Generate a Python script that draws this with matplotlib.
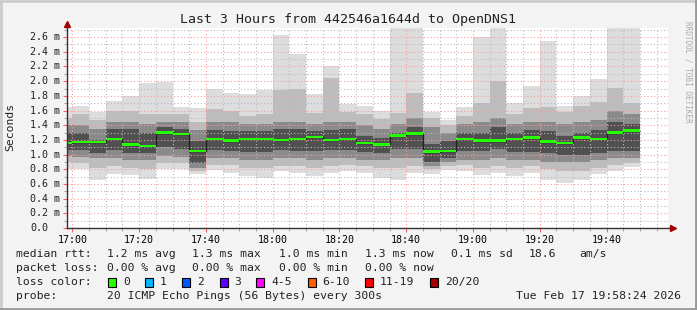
import matplotlib
matplotlib.use("Agg")
import matplotlib.pyplot as plt
import matplotlib.dates as mdates
import matplotlib.transforms as mtransforms
from matplotlib.patches import Rectangle
import numpy as np
import pandas as pd

plt.rcParams['font.family'] = ['DejaVu Sans Mono']

# 5 minute smokeping slots, the first one is cut off by the left edge
slot_start = pd.date_range("2026-02-17 16:55", periods=35, freq="5min")
t_start = pd.Timestamp("2026-02-17 16:58:24")
t_end = pd.Timestamp("2026-02-17 19:58:24")

# values in ms
median = [1.16, 1.17, 1.17, 1.21, 1.135, 1.12, 1.30, 1.28, 1.05, 1.21,
          1.19, 1.21, 1.21, 1.20, 1.21, 1.24, 1.20, 1.21, 1.16, 1.14,
          1.26, 1.285, 1.04, 1.05, 1.215, 1.19, 1.19, 1.215, 1.23, 1.175,
          1.16, 1.23, 1.215, 1.30, 1.325]
ping_max = [1.65, 1.66, 1.58, 1.73, 1.80, 1.98, 1.99, 1.65, 1.63, 1.90,
            1.84, 1.82, 1.88, 2.63, 2.37, 1.83, 2.21, 1.69, 1.66, 1.59,
            2.85, 2.85, 1.58, 1.47, 1.65, 2.60, 2.85, 1.70, 1.93, 2.55,
            1.66, 1.80, 2.03, 2.85, 2.85]
ping_min = [0.80, 0.80, 0.65, 0.735, 0.72, 0.667, 0.80, 0.80, 0.74, 0.79,
            0.755, 0.71, 0.685, 0.77, 0.75, 0.71, 0.745, 0.78, 0.75, 0.685,
            0.653, 0.75, 0.73, 0.79, 0.78, 0.725, 0.75, 0.71, 0.745, 0.653,
            0.617, 0.653, 0.735, 0.78, 0.826]
hi2 = [1.50, 1.55, 1.47, 1.60, 1.60, 1.55, 1.55, 1.55, 1.45, 1.62,
       1.60, 1.52, 1.55, 1.88, 1.90, 1.56, 2.04, 1.58, 1.55, 1.48,
       1.56, 1.84, 1.50, 1.40, 1.52, 1.70, 2.00, 1.55, 1.63, 1.65,
       1.58, 1.66, 1.72, 1.91, 1.70]
lo2 = [0.90, 0.88, 0.82, 0.85, 0.82, 0.80, 0.88, 0.88, 0.77, 0.86,
       0.86, 0.82, 0.82, 0.85, 0.85, 0.82, 0.85, 0.86, 0.85, 0.82,
       0.82, 0.85, 0.80, 0.85, 0.86, 0.82, 0.85, 0.82, 0.84, 0.80,
       0.78, 0.78, 0.82, 0.86, 0.88]
hi3 = [1.40, 1.40, 1.35, 1.45, 1.45, 1.42, 1.45, 1.45, 1.33, 1.45,
       1.45, 1.42, 1.42, 1.45, 1.45, 1.42, 1.45, 1.45, 1.40, 1.35,
       1.42, 1.50, 1.38, 1.30, 1.42, 1.45, 1.50, 1.42, 1.45, 1.45,
       1.42, 1.45, 1.47, 1.60, 1.55]
lo3 = [0.98, 0.97, 0.95, 0.95, 0.92, 0.92, 0.98, 0.97, 0.82, 0.95,
       0.95, 0.92, 0.92, 0.95, 0.95, 0.93, 0.95, 0.95, 0.93, 0.92,
       0.95, 0.95, 0.85, 0.90, 0.92, 0.92, 0.95, 0.92, 0.92, 0.90,
       0.90, 0.90, 0.92, 0.95, 0.95]
hi4 = [1.30, 1.30, 1.20, 1.35, 1.35, 1.30, 1.38, 1.35, 1.18, 1.33,
       1.32, 1.32, 1.32, 1.35, 1.35, 1.32, 1.33, 1.35, 1.25, 1.22,
       1.30, 1.38, 1.15, 1.18, 1.30, 1.30, 1.38, 1.30, 1.33, 1.32,
       1.25, 1.30, 1.33, 1.45, 1.42]
lo4 = [1.06, 1.06, 1.02, 1.06, 1.02, 1.02, 1.10, 1.08, 0.88, 1.06,
       1.05, 1.04, 1.04, 1.06, 1.05, 1.05, 1.06, 1.06, 1.04, 1.02,
       1.08, 1.08, 0.90, 0.95, 1.05, 1.05, 1.08, 1.04, 1.04, 1.02,
       1.00, 1.00, 1.02, 1.05, 1.05]

loss_labels = ["0", "1", "2", "3", "4-5", "6-10", "11-19", "20/20"]
loss_colors = ["#26ff00", "#00b8ff", "#0059ff", "#5e00ff", "#ff00ff",
               "#ff5e00", "#ff0000", "#a00000"]

W, H = 697, 310
fig = plt.figure(figsize=(W / 100, H / 100), dpi=100, facecolor="#f3f3f3")
ax = fig.add_axes([67 / W, 1 - 228 / H, (668 - 67) / W, (228 - 28.3) / H])
ax.set_facecolor("white")

x = mdates.date2num(slot_start)
wd = 5 / 1440.0
med = np.array(median)

# smoke, outer band first
for lo, hi, c in [(ping_min, ping_max, "#dddddd"), (lo2, hi2, "#bdbdbd"),
                  (lo3, hi3, "#8a8a8a"), (lo4, hi4, "#505050")]:
    lo = np.array(lo)
    hi = np.array(hi)
    ax.bar(x, hi - lo, bottom=lo, width=wd, align="edge", color=c, lw=0, zorder=1)

edges = np.append(x, x[-1] + wd)
ax.stairs(med, edges, baseline=None, color="#202020", lw=1, zorder=3)
sw = 0.017
ax.bar(x, 2 * sw, bottom=med - sw, width=wd, align="edge", color=loss_colors[0], lw=0, zorder=4)

ax.set_xlim(mdates.date2num(t_start), mdates.date2num(t_end))
ax.set_ylim(0, 2.72)

ax.xaxis.set_major_locator(mdates.MinuteLocator(byminute=[0, 20, 40]))
ax.xaxis.set_minor_locator(mdates.MinuteLocator(byminute=range(0, 60, 5)))
ax.xaxis.set_major_formatter(mdates.DateFormatter("%H:%M"))
ax.set_yticks(np.arange(0, 2.61, 0.2))
ax.set_yticks(np.arange(0.1, 2.72, 0.2), minor=True)
ax.set_yticklabels([])
ax.set_axisbelow(False)
ax.grid(which="major", color="#ff9a9a", ls=(0, (1, 2)), lw=0.8, zorder=2.5)
ax.grid(which="minor", color="#bbbbbb", ls=(0, (1, 2)), lw=0.8, zorder=2.5)
ax.tick_params(axis="x", which="major", length=3, color="#ff6060", labelsize=7.2, pad=2)
ax.tick_params(axis="x", which="minor", length=2, color="#999999")
ax.tick_params(axis="y", which="major", length=3, color="#ff6060")
ax.tick_params(axis="y", which="minor", length=2, color="#999999")

for s in ax.spines.values():
    s.set_visible(False)
# axis lines with arrows
ax.plot([0, 0], [0, 1.015], transform=ax.transAxes, color="#333333", lw=1, clip_on=False, zorder=5)
ax.plot([0, 1.005], [0, 0], transform=ax.transAxes, color="#333333", lw=1, clip_on=False, zorder=5)
ax.plot(0, 1.02, marker="^", ms=4, color="#a00000", transform=ax.transAxes, clip_on=False, zorder=6)
ax.plot(1.008, 0, marker=">", ms=4, color="#a00000", transform=ax.transAxes, clip_on=False, zorder=6)

# y tick labels, left aligned like rrdtool
tr = mtransforms.blended_transform_factory(fig.transFigure, ax.transData)
for v in np.arange(0, 2.61, 0.2):
    lab = "0.0" if v < 0.01 else "%.1f m" % v
    ax.text(30 / W, v, lab, transform=tr, ha="left", va="center", fontsize=7.2, color="#222222")


def ftext(px, py, s, **kw):
    kw.setdefault("fontsize", 8.2)
    kw.setdefault("va", "center")
    kw.setdefault("color", "#222222")
    fig.text(px / W, 1 - py / H, s, **kw)


ftext(348, 19, "Last 3 Hours from 442546a1644d to OpenDNS1", ha="center", fontsize=9.5)
ftext(10, 127, "Seconds", rotation=90, ha="center")
ftext(688, 72, "RRDTOOL / TOBI OETIKER", rotation=270, ha="center", fontsize=5.5, color="#aaaaaa")

row1 = [(16, "median rtt:"), (107, "1.2 ms avg"), (192, "1.3 ms max"), (279, "1.0 ms min"),
        (365, "1.3 ms now"), (451, "0.1 ms sd"), (529, "18.6"), (579, "am/s")]
row2 = [(16, "packet loss:"), (107, "0.00 % avg"), (192, "0.00 % max"), (279, "0.00 % min"),
        (365, "0.00 % now")]
for px, s in row1:
    ftext(px, 254, s)
for px, s in row2:
    ftext(px, 268, s)

ftext(16, 282, "loss color:")
sq_x = [108, 145, 182, 219.5, 256, 307.5, 365, 430]
for px, lab, c in zip(sq_x, loss_labels, loss_colors):
    fig.add_artist(Rectangle((px / W, 1 - 286.5 / H), 8 / W, 9 / H, transform=fig.transFigure,
                             facecolor=c, edgecolor="black", lw=0.8))
    ftext(px + 15, 282, lab)

ftext(16, 296, "probe:")
ftext(107, 296, "20 ICMP Echo Pings (56 Bytes) every 300s")
ftext(681, 296, "Tue Feb 17 19:58:24 2026", ha="right")

# frame
fig.add_artist(plt.Line2D([0, 1], [1 - 1 / H, 1 - 1 / H], transform=fig.transFigure, color="#cbcbcb", lw=2))
fig.add_artist(plt.Line2D([1 / W, 1 / W], [0, 1], transform=fig.transFigure, color="#cbcbcb", lw=2))
fig.add_artist(plt.Line2D([0, 1], [1 / H, 1 / H], transform=fig.transFigure, color="#999999", lw=2))
fig.add_artist(plt.Line2D([1 - 1 / W, 1 - 1 / W], [0, 1], transform=fig.transFigure, color="#999999", lw=2))

fig.savefig("out.png", dpi=100, facecolor=fig.get_facecolor())
